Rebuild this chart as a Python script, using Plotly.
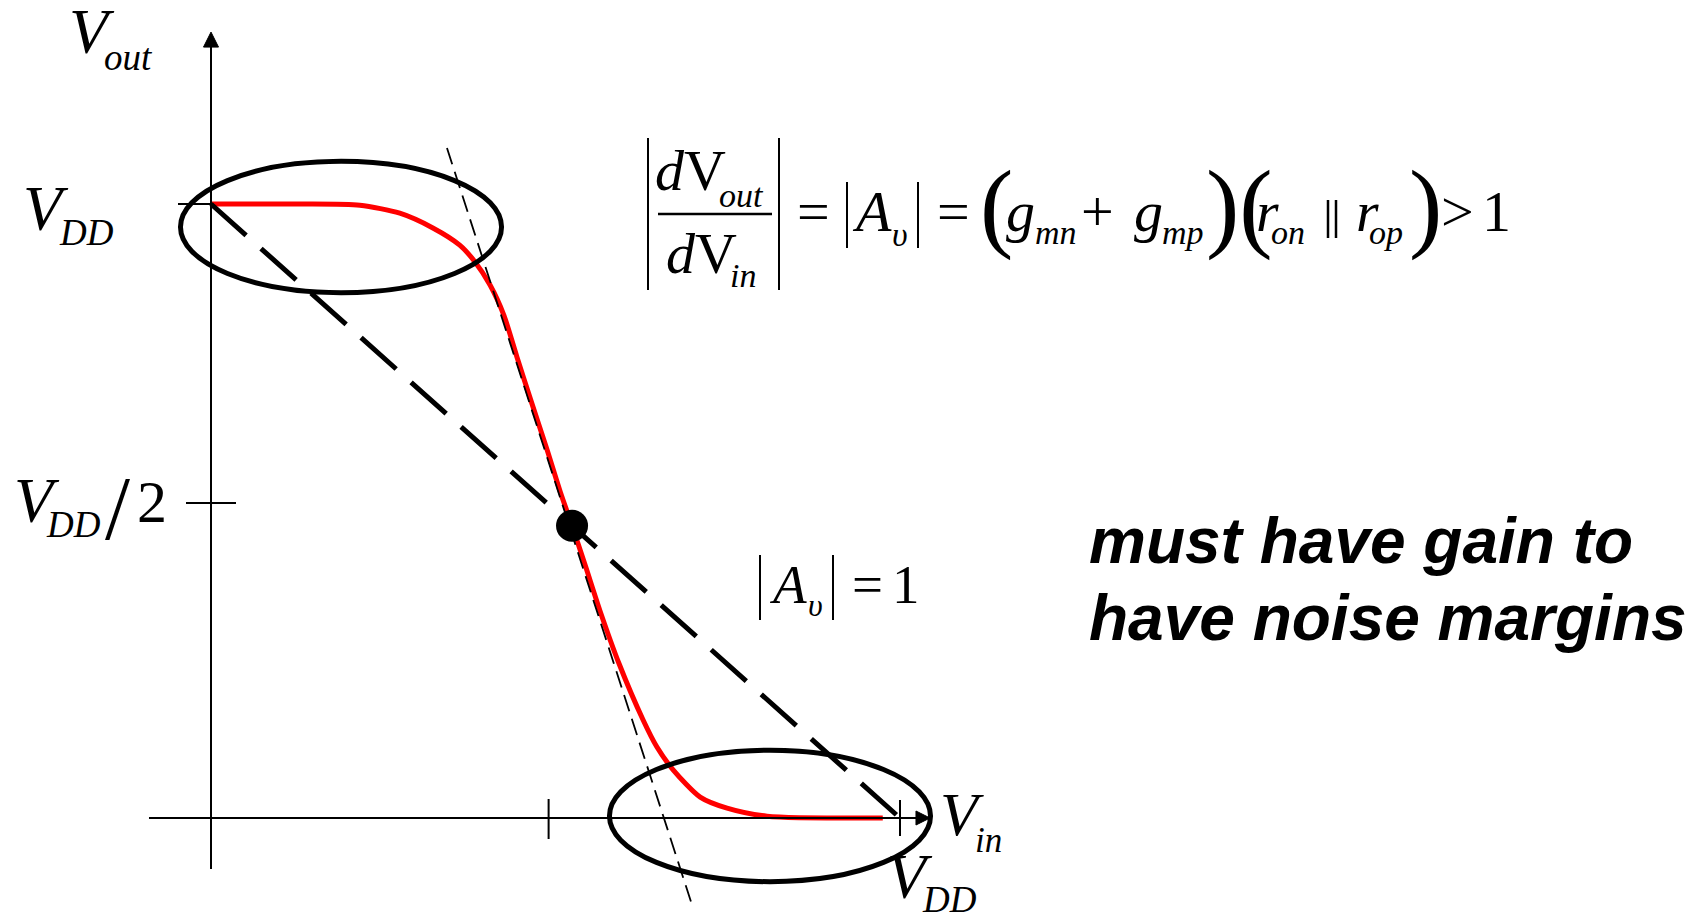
import plotly.graph_objects as go

W, H = 1704, 916

# CMOS inverter voltage transfer characteristic, normalised to VDD = 1
vin = [0.000, 0.129, 0.216, 0.274, 0.322, 0.361, 0.383, 0.405, 0.425, 0.444,
       0.464, 0.488, 0.507, 0.524, 0.543, 0.565, 0.592, 0.627, 0.647, 0.671,
       0.710, 0.749, 0.807, 0.975]
vout = [1.000, 1.000, 0.998, 0.985, 0.961, 0.933, 0.906, 0.868, 0.819, 0.751,
        0.681, 0.599, 0.531, 0.476, 0.412, 0.336, 0.252, 0.160, 0.116, 0.078,
        0.034, 0.016, 0.003, 0.000]

# switching point
vm_in = [0.524]
vm_out = [0.476]

# |Av| = 1 reference line
unity_x = [0.0, 1.0]
unity_y = [1.0, 0.0]

# high-gain tangent through the switching point
tan_x = [0.3425, 0.6996]
tan_y = [1.0912, -0.1466]

# axis extents and tick positions
x_axis = [-0.09, 1.0435]
y_axis = [-0.083, 1.280]
x_ticks = [0.49, 1.0]
y_ticks = [1.0, 0.513]

# circled saturation regions (centre Vin, centre Vout)
region_centres = [(0.1887, 0.9625), (0.8113, 0.0033)]
region_rx, region_ry = 0.233, 0.107

# data -> pixel scale of the drawing
X0_PX, Y0_PX = 211, 818
SX, SY = 689, 614


def dx(p):
    return p / SX


def dy(p):
    return p / SY


fig = go.Figure()

fig.add_trace(go.Scatter(x=vin, y=vout, mode="lines",
                         line=dict(color="#ff0000", width=5, shape="spline", smoothing=0.7),
                         hoverinfo="skip"))
fig.add_trace(go.Scatter(x=unity_x, y=unity_y, mode="lines",
                         line=dict(color="black", width=5, dash="47px,20px"),
                         hoverinfo="skip"))
fig.add_trace(go.Scatter(x=tan_x, y=tan_y, mode="lines",
                         line=dict(color="black", width=1.8, dash="17px,8px"),
                         hoverinfo="skip"))
fig.add_trace(go.Scatter(x=vm_in, y=vm_out, mode="markers",
                         marker=dict(color="black", size=32, line=dict(width=0)),
                         hoverinfo="skip"))

shapes = []


def dline(x0, y0, x1, y1, w=2):
    shapes.append(dict(type="line", xref="x", yref="y", x0=x0, y0=y0, x1=x1, y1=y1,
                       line=dict(color="black", width=w)))


def pline(x0, y0, x1, y1, w=2):
    shapes.append(dict(type="line", xref="paper", yref="paper",
                       x0=x0 / W, y0=1 - y0 / H, x1=x1 / W, y1=1 - y1 / H,
                       line=dict(color="black", width=w)))


# axes with arrow heads
dline(0, y_axis[0], 0, y_axis[1] - dy(10))
dline(x_axis[0], 0, x_axis[1] - dx(10), 0)
ay = y_axis[1]
shapes.append(dict(type="path", xref="x", yref="y",
                   path=f"M {-dx(7.5)},{ay - dy(15)} L 0,{ay} L {dx(7.5)},{ay - dy(15)} Z",
                   fillcolor="black", line=dict(color="black", width=1)))
ax = x_axis[1]
shapes.append(dict(type="path", xref="x", yref="y",
                   path=f"M {ax - dx(14)},{dy(7)} L {ax},0 L {ax - dx(14)},{-dy(7)} Z",
                   fillcolor="black", line=dict(color="black", width=1)))

# ticks
dline(-dx(33), y_ticks[0], dx(1), y_ticks[0])
dline(-dx(25), y_ticks[1], dx(25), y_ticks[1])
dline(x_ticks[0], dy(19), x_ticks[0], -dy(21))
dline(x_ticks[1], dy(18), x_ticks[1], -dy(18))

# circled regions
for cx, cy in region_centres:
    shapes.append(dict(type="circle", xref="x", yref="y",
                       x0=cx - region_rx, x1=cx + region_rx,
                       y0=cy - region_ry, y1=cy + region_ry,
                       line=dict(color="black", width=5)))

# absolute-value bars, fraction bar and parallel sign of the gain expression
pline(648, 138, 648, 290)
pline(779, 138, 779, 290)
pline(658, 214, 772, 214, 2.5)
pline(847, 182, 847, 248)
pline(918, 182, 918, 248)
pline(1328, 200, 1328, 238, 2.5)
pline(1336, 200, 1336, 238, 2.5)
pline(760, 555, 760, 620)
pline(833, 555, 833, 620)

annotations = []
SERIF = "Liberation Serif"
SANS = "Liberation Sans"


def txt(s, x, base, size, italic=True, family=SERIF, anchor="center", asc=0.891, desc=0.216):
    cy = base - (asc - desc) / 2 * size
    if italic:
        s = f"<i>{s}</i>"
    annotations.append(dict(text=s, x=x / W, y=1 - cy / H, xref="paper", yref="paper",
                            xanchor=anchor, yanchor="middle", showarrow=False,
                            borderpad=0, font=dict(family=family, size=size, color="black")))


# axis labels
txt("V", 92, 53, 64)
txt("out", 128, 70, 37)
txt("V", 46, 230, 64)
txt("DD", 86, 245, 37)
txt("V", 37, 522, 64)
txt("DD", 73, 537, 37)
txt("/", 117, 539, 90, italic=False)
txt("2", 152, 522, 60, italic=False)
txt("V", 962, 835, 62)
txt("in", 988, 852, 35)
txt("V", 910, 898, 64)
txt("DD", 949, 912, 37)

# gain expression
txt("<i>d</i>V", 690, 190, 58, italic=False)
txt("out", 741, 207, 34)
txt("<i>d</i>V", 701, 273, 58, italic=False)
txt("in", 743, 287, 34)
txt("=", 813, 231, 58, italic=False)
txt("A", 872, 231, 58)
txt("υ", 900, 246, 34)
txt("=", 953, 231, 58, italic=False)
txt("(", 996, 239, 100, italic=False)
txt("g", 1021, 231, 58)
txt("mn", 1056, 244, 34)
txt("+", 1097, 231, 58, italic=False)
txt("g", 1148, 231, 58)
txt("mp", 1183, 244, 34)
txt(")(", 1239, 239, 100, italic=False)
txt("r", 1267, 231, 58)
txt("on", 1288, 244, 34)
txt("r", 1367, 231, 58)
txt("op", 1386, 244, 34)
txt(")", 1425, 239, 100, italic=False)
txt(">", 1457, 231, 58, italic=False)
txt("1", 1496, 231, 58, italic=False)

# unity gain label
txt("A", 788, 603, 55)
txt("υ", 815, 616, 32)
txt("=", 867, 603, 55, italic=False)
txt("1", 906, 603, 55, italic=False)

# remark
txt("<b><i>must have gain to</i></b>", 1088, 563, 64, italic=False, family=SANS,
    anchor="left", asc=0.905, desc=0.212)
txt("<b><i>have noise margins</i></b>", 1088, 640, 64, italic=False, family=SANS,
    anchor="left", asc=0.905, desc=0.212)

fig.update_layout(
    width=W, height=H,
    margin=dict(l=0, r=0, t=0, b=0),
    paper_bgcolor="white", plot_bgcolor="white",
    showlegend=False,
    xaxis=dict(range=[-X0_PX / SX, (W - X0_PX) / SX], visible=False, fixedrange=True),
    yaxis=dict(range=[(Y0_PX - H) / SY, Y0_PX / SY], visible=False, fixedrange=True),
    shapes=shapes,
    annotations=annotations,
)

fig.write_html("out.html", config={"displayModeBar": False})
